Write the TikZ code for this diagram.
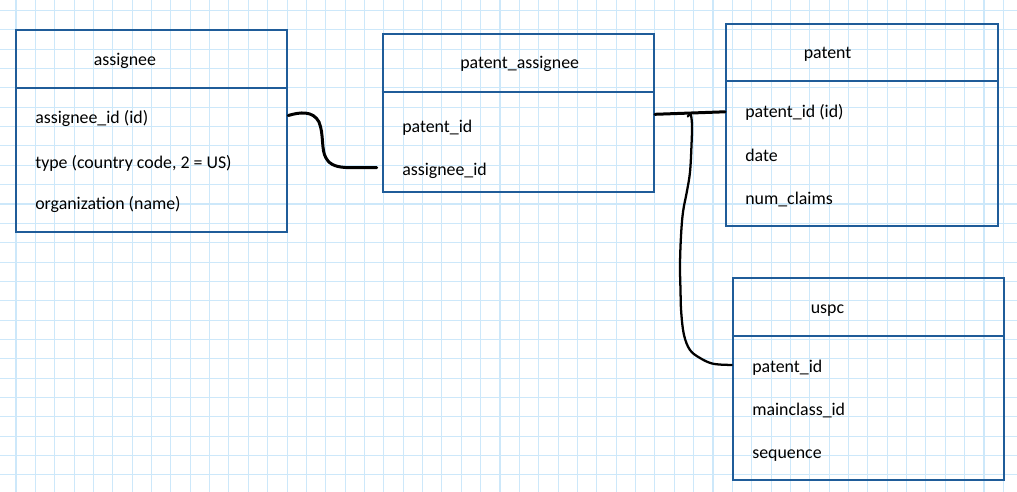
\documentclass[tikz,border=0pt]{standalone}
\usepackage{fontspec}
\setmainfont{Carlito}
\usetikzlibrary{fit,calc}
\definecolor{gridblue}{HTML}{CDE8FA}
\definecolor{boxblue}{HTML}{1F5C99}
\tikzset{
  gridline/.style={draw=gridblue, line width=0.8pt},
  tbl/.style={draw=boxblue, line width=1.5pt, rectangle, inner sep=0pt, fill=none},
  tblline/.style={draw=boxblue, line width=1.5pt},
  lbl/.style={anchor=base west, inner sep=0pt, font=\fontsize{13.4}{16}\selectfont, text=black},
  conn/.style={draw=black, line width=2.25pt, line cap=round, line join=round},
  connthin/.style={draw=black, line width=1.7pt, line cap=round, line join=round}
}
\begin{document}
\begin{tikzpicture}[x=0.75pt,y=-0.75pt]
\useasboundingbox (0,0) rectangle (1017,492);
\fill[white] (0,0) rectangle (1017,492);
% grid
\foreach \i in {0,...,51} \draw[gridline] ({16+19.36*\i},0) -- ({16+19.36*\i},492);
\foreach \j in {0,...,24} \draw[gridline] (0,{10.5+19.35*\j}) -- (1017,{10.5+19.35*\j});
% tables
\node[tbl, fit={(16,30) (287.3,231.7)}] (assignee) {};
\draw[tblline] (assignee.west |- 0,88.3) -- (assignee.east |- 0,88.3);
\node[lbl] (assigneeT) at (93.5,65) {assignee};
\node[lbl] (a1) at (35,123.7) {assignee\_id (id)};
\node[lbl] (a2) at (35,168.2) {type (country code, 2 = US)};
\node[lbl] (a3) at (35,209.7) {organization (name)};

\node[tbl, fit={(382.7,34) (654,192.3)}] (pa) {};
\draw[tblline] (pa.west |- 0,91.7) -- (pa.east |- 0,91.7);
\node[lbl] (paT) at (460,69) {patent\_assignee};
\node[lbl] (pa1) at (402,132.2) {patent\_id};
\node[lbl] (pa2) at (402,175.5) {assignee\_id};

\node[tbl, fit={(726,24) (997.7,225.7)}] (patent) {};
\draw[tblline] (patent.west |- 0,81.3) -- (patent.east |- 0,81.3);
\node[lbl] (patentT) at (803.5,59) {patent};
\node[lbl] (p1) at (745,117.3) {patent\_id (id)};
\node[lbl] (p2) at (745,161.3) {date};
\node[lbl] (p3) at (745,204.6) {num\_claims};

\node[tbl, fit={(732.7,278.3) (1003.7,480)}] (uspc) {};
\draw[tblline] (uspc.west |- 0,335.7) -- (uspc.east |- 0,335.7);
\node[lbl] (uspcT) at (810.5,313.3) {uspc};
\node[lbl] (u1) at (752,372.3) {patent\_id};
\node[lbl] (u2) at (752,415.6) {mainclass\_id};
\node[lbl] (u3) at (752,458.9) {sequence};

% connectors
\coordinate (c1end) at ($(pa.west |- 0,167.6)+(-5,0)$);
\draw[conn] (assignee.east |- 0,115.5) .. controls (300,112) and (313,110.5) .. (319,122)
  .. controls (324,134) and (321,150) .. (326,158)
  .. controls (330,165.5) and (338,167.6) .. (350,167.6) -- (c1end);
\draw[conn] (pa.east |- 0,114.3) -- (patent.west |- 0,111.8);
\draw[connthin] plot[smooth, tension=0.6] coordinates {(687.8,116.5) (690.6,114.4) (692,125) (691.5,145) (690,172) (686.8,192) (683,212) (681,236) (680,265) (680.5,290) (681.2,312) (684,335) (690,350) (700,358) (712,363.5) (725,364.8)} -- (uspc.west |- 0,365);
\end{tikzpicture}
\end{document}
